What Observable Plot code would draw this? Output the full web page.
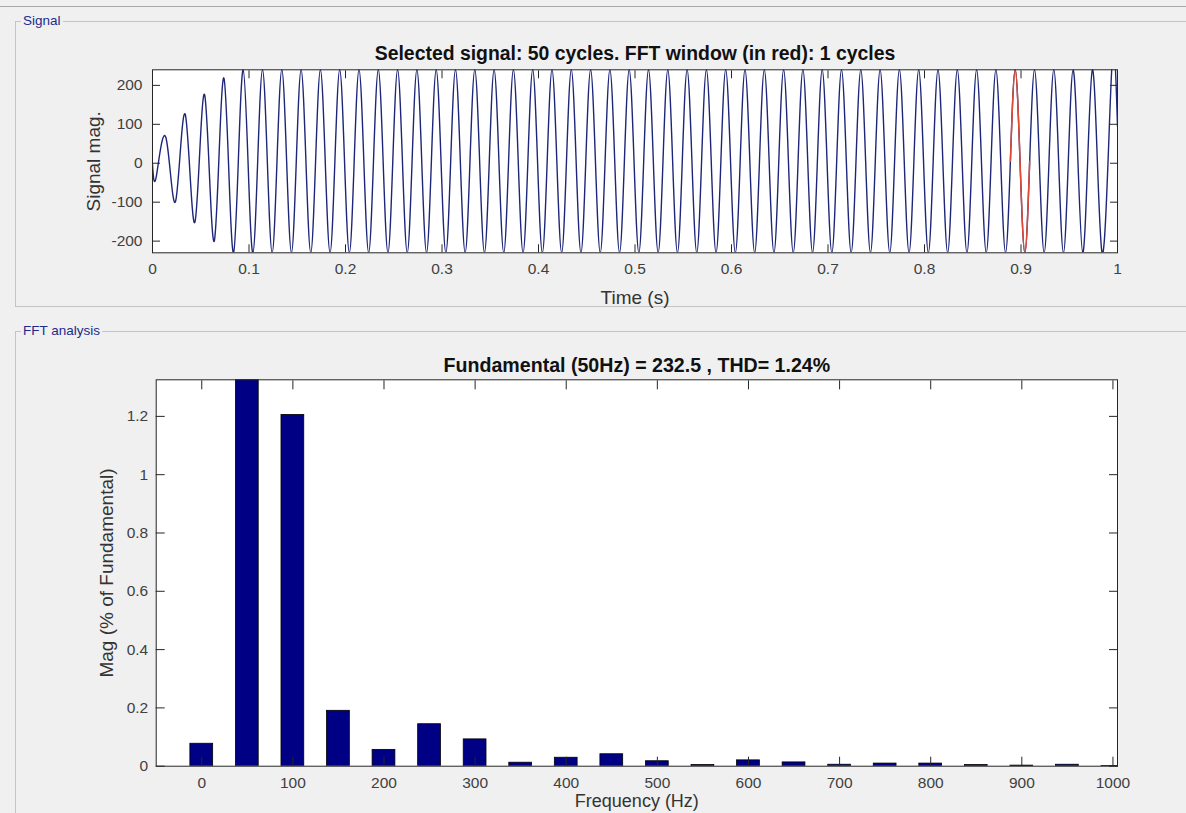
<!DOCTYPE html>
<html><head><meta charset="utf-8">
<script src="https://cdn.jsdelivr.net/npm/d3@7"></script>
<script src="https://cdn.jsdelivr.net/npm/@observablehq/plot@0.6"></script>
<style>
html,body{margin:0;padding:0;background:#f0f0f0;width:1186px;height:813px;overflow:hidden;font-family:"Liberation Sans",Arial,sans-serif;}
.topline{position:absolute;left:0;top:6px;width:1186px;height:0;border-top:1px solid #a8a8a8;}
.box{position:absolute;border:1px solid #c4c4c4;}
.box .lbl{position:absolute;top:-9px;left:5px;padding:0 2px;background:#f0f0f0;color:#1c2b8c;font-size:13.5px;line-height:16px;}
.chart{position:absolute;left:0;}
</style></head>
<body>
<div class="topline"></div>
<div class="box" style="left:15px;top:21px;width:1200px;height:284px;"><span class="lbl">Signal</span></div>
<div class="box" style="left:15px;top:331px;width:1200px;height:600px;"><span class="lbl">FFT analysis</span></div>
<div id="c1" class="chart" style="top:30px"></div>
<div id="c2" class="chart" style="top:340px"></div>
<script>
// ---- Signal panel data ----
const signalTitle = "Selected signal: 50 cycles. FFT window (in red): 1 cycles";
const timeTicks = [0, 0.1, 0.2, 0.3, 0.4, 0.5, 0.6, 0.7, 0.8, 0.9, 1];
const signalTicks = [-200, -100, 0, 100, 200];
const signalPoints = [
  [0, -3],
  [0.004, -33], [0.014, 65], [0.024, -97], [0.034, 125], [0.044, -151],
  [0.054, 176], [0.064, -200], [0.074, 219], [0.084, -230], [0.094, 240],
  [0.104, -230], [0.114, 240], [0.124, -230], [0.134, 240], [0.144, -230], [0.154, 240], [0.164, -230], [0.174, 240], [0.184, -230], [0.194, 240],
  [0.204, -230], [0.214, 240], [0.224, -230], [0.234, 240], [0.244, -230], [0.254, 240], [0.264, -230], [0.274, 240], [0.284, -230], [0.294, 240],
  [0.304, -230], [0.314, 240], [0.324, -230], [0.334, 240], [0.344, -230], [0.354, 240], [0.364, -230], [0.374, 240], [0.384, -230], [0.394, 240],
  [0.404, -230], [0.414, 240], [0.424, -230], [0.434, 240], [0.444, -230], [0.454, 240], [0.464, -230], [0.474, 240], [0.484, -230], [0.494, 240],
  [0.504, -230], [0.514, 240], [0.524, -230], [0.534, 240], [0.544, -230], [0.554, 240], [0.564, -230], [0.574, 240], [0.584, -230], [0.594, 240],
  [0.604, -230], [0.614, 240], [0.624, -230], [0.634, 240], [0.644, -230], [0.654, 240], [0.664, -230], [0.674, 240], [0.684, -230], [0.694, 240],
  [0.704, -230], [0.714, 240], [0.724, -230], [0.734, 240], [0.744, -230], [0.754, 240], [0.764, -230], [0.774, 240], [0.784, -230], [0.794, 240],
  [0.804, -230], [0.814, 240], [0.824, -230], [0.834, 240], [0.844, -230], [0.854, 240], [0.864, -230], [0.874, 240], [0.884, -230], [0.894, 240],
  [0.904, -230], [0.914, 240], [0.924, -230], [0.934, 240], [0.944, -230], [0.954, 240], [0.964, -230], [0.974, 240], [0.984, -230], [0.994, 240],
  [1, 95]
];
// FFT window (red), one cycle
const fftWindowPoints = [[0.889, 5], [0.894, 240], [0.899, 5], [0.904, -230], [0.909, 5]];

// ---- FFT panel data ----
const fftTitle = "Fundamental (50Hz) = 232.5 , THD= 1.24%";
const freqTicks = [0, 100, 200, 300, 400, 500, 600, 700, 800, 900, 1000];
const magTicks = [0, 0.2, 0.4, 0.6, 0.8, 1, 1.2];
const harmonicFreq = [0, 50, 100, 150, 200, 250, 300, 350, 400, 450, 500, 550, 600, 650, 700, 750, 800, 850, 900, 950, 1000];
const harmonicMag = [0.077, 100, 1.205, 0.19, 0.056, 0.144, 0.092, 0.012, 0.029, 0.041, 0.017, 0.004, 0.020, 0.013, 0.005, 0.009, 0.009, 0.004, 0.002, 0.005, 0.001];

// ---- build ----
const W = 1186;
const FONT = "'Liberation Sans', Arial, Helvetica, sans-serif";
const AX = "#262626";
const signal = signalPoints.map(([t, v]) => ({t, v}));
const win = fftWindowPoints.map(([t, v]) => ({t, v}));
const harmonics = harmonicFreq.map((f, i) => ({f, m: harmonicMag[i]}));
const barHalf = 12.5;
const centred = {lineAnchor: "middle", textAnchor: "middle"};

const p1 = Plot.plot({
  width: W, height: 280,
  marginLeft: 152, marginRight: 69, marginTop: 39.3, marginBottom: 57.7,
  style: {background: "transparent", fontFamily: FONT, fontSize: "15.5px", color: "#404040", overflow: "visible"},
  x: {domain: [0, 1]},
  y: {domain: [-230, 240]},
  marks: [
    Plot.frame({fill: "white", stroke: null}),
    Plot.line(signal, {x: "t", y: "v", curve: "natural", stroke: "#1e2678", strokeWidth: 1.4, clip: true}),
    Plot.line(win, {x: "t", y: "v", curve: "natural", stroke: "#e04a35", strokeWidth: 1.5, clip: true}),
    Plot.axisX({anchor: "bottom", ticks: timeTicks, tickSize: -8, tickPadding: 18, tickFormat: d => String(d), label: null, stroke: AX, fill: "#404040"}),
    Plot.axisX({anchor: "top", ticks: timeTicks, tickSize: -8, tickFormat: () => "", label: null, stroke: AX}),
    Plot.axisY({anchor: "left", ticks: signalTicks, tickSize: -8, tickPadding: 18, tickFormat: d => String(d), label: null, stroke: AX, fill: "#404040"}),
    Plot.axisY({anchor: "right", ticks: signalTicks, tickSize: -8, tickFormat: () => "", label: null, stroke: AX}),
    Plot.frame({stroke: AX}),
    Plot.text([signalTitle], {text: d => d, frameAnchor: "top", dy: -16, ...centred, fontWeight: "bold", fontSize: 19.4, fill: "#111"}),
    Plot.text(["Time (s)"], {text: d => d, frameAnchor: "bottom", dy: 45, ...centred, fontSize: 19, fill: "#333"}),
    Plot.text(["Signal mag."], {text: d => d, frameAnchor: "left", dx: -59, rotate: -90, ...centred, fontSize: 19, fill: "#333"})
  ]
});
document.getElementById("c1").appendChild(p1);

const p2 = Plot.plot({
  width: W, height: 473,
  marginLeft: 155.7, marginRight: 69, marginTop: 39.3, marginBottom: 47.3,
  style: {background: "transparent", fontFamily: FONT, fontSize: "15.5px", color: "#404040", overflow: "visible"},
  x: {domain: [-50, 1005]},
  y: {domain: [0, 1.3255]},
  marks: [
    Plot.frame({fill: "white", stroke: null}),
    Plot.rect(harmonics, {x1: d => d.f - barHalf, x2: d => d.f + barHalf, y1: 0, y2: "m", fill: "#000085", stroke: "#000", strokeWidth: 0.8, clip: true}),
    Plot.axisX({anchor: "bottom", ticks: freqTicks, tickSize: -9, tickPadding: 20, tickFormat: d => String(d), label: null, stroke: AX, fill: "#404040"}),
    Plot.axisX({anchor: "top", ticks: freqTicks, tickSize: -9, tickFormat: () => "", label: null, stroke: AX}),
    Plot.axisY({anchor: "left", ticks: magTicks, tickSize: -9, tickPadding: 17, tickFormat: d => String(d), label: null, stroke: AX, fill: "#404040"}),
    Plot.axisY({anchor: "right", ticks: magTicks, tickSize: -9, tickFormat: () => "", label: null, stroke: AX}),
    Plot.frame({stroke: AX}),
    Plot.text([fftTitle], {text: d => d, frameAnchor: "top", dy: -14, ...centred, fontWeight: "bold", fontSize: 19.6, fill: "#111"}),
    Plot.text(["Frequency (Hz)"], {text: d => d, frameAnchor: "bottom", dy: 35, ...centred, fontSize: 18, fill: "#333"}),
    Plot.text(["Mag (% of Fundamental)"], {text: d => d, frameAnchor: "left", dx: -49, rotate: -90, ...centred, fontSize: 19, fill: "#333"})
  ]
});
document.getElementById("c2").appendChild(p2);
</script>
</body></html>
